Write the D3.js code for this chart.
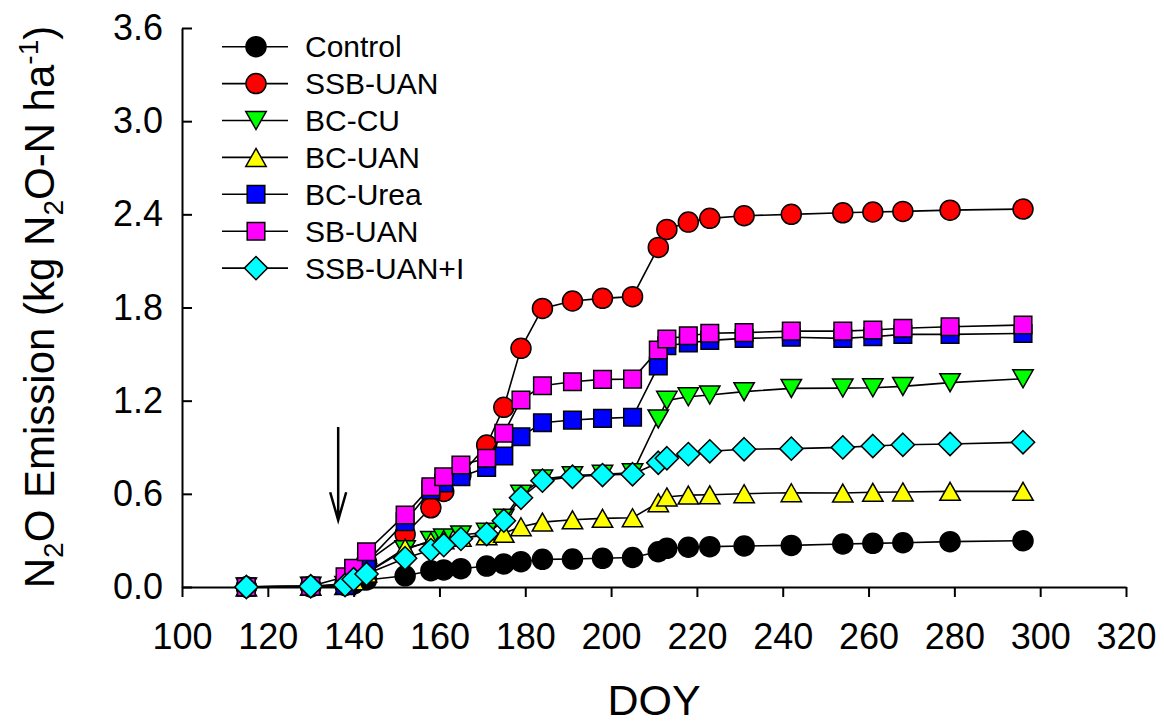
<!DOCTYPE html>
<html>
<head>
<meta charset="utf-8">
<script src="https://cdn.jsdelivr.net/npm/d3@7"></script>
<style>
  body { margin: 0; background: #fff; }
  text { font-family: "Liberation Sans", Arial, sans-serif; fill: #000; }
</style>
</head>
<body>
<svg id="chart" width="1164" height="726"></svg>
<script>
// sampling days (DOY) shared by all treatments
const doy = [115, 130, 138, 140, 143, 152, 158, 161, 165, 171, 175, 179, 184, 191, 198, 205,
  211, 213, 218, 223, 231, 242, 254, 261, 268, 279, 296];

// cumulative N2O emission, kg N2O-N ha-1
const control = [0, 0, 0.01, 0.02, 0.045, 0.072, 0.105, 0.11, 0.118, 0.135, 0.148, 0.163, 0.178, 0.18, 0.185, 0.19,
  0.227, 0.249, 0.256, 0.26, 0.264, 0.268, 0.277, 0.281, 0.285, 0.292, 0.298];
const ssbUan = [0, 0.005, 0.02, 0.08, 0.16, 0.34, 0.51, 0.615, 0.72, 0.914, 1.157, 1.537, 1.794, 1.842, 1.859, 1.87,
  2.187, 2.303, 2.35, 2.374, 2.391, 2.40, 2.41, 2.415, 2.419, 2.427, 2.434];
const bcCu = [0, 0.005, 0.01, 0.04, 0.09, 0.24, 0.3, 0.315, 0.335, 0.352, 0.442, 0.597, 0.695, 0.717, 0.726, 0.735,
  1.082, 1.202, 1.225, 1.236, 1.258, 1.279, 1.281, 1.283, 1.292, 1.316, 1.341];
const bcUan = [0, 0.005, 0.01, 0.04, 0.09, 0.25, 0.29, 0.305, 0.32, 0.33, 0.346, 0.388, 0.418, 0.433, 0.442, 0.446,
  0.543, 0.58, 0.592, 0.594, 0.601, 0.607, 0.605, 0.61, 0.612, 0.616, 0.616];
const bcUrea = [0, 0.005, 0.01, 0.09, 0.16, 0.42, 0.625, 0.67, 0.71, 0.77, 0.844, 0.968, 1.058, 1.075, 1.086, 1.093,
  1.423, 1.554, 1.571, 1.588, 1.601, 1.608, 1.601, 1.612, 1.627, 1.627, 1.633];
const sbUan = [0, 0.005, 0.066, 0.12, 0.227, 0.464, 0.646, 0.71, 0.786, 0.829, 0.99, 1.204, 1.296, 1.322, 1.337, 1.339,
  1.526, 1.597, 1.618, 1.634, 1.638, 1.648, 1.648, 1.655, 1.666, 1.676, 1.687];
const ssbUanI = [0, 0.005, 0.013, 0.05, 0.084, 0.185, 0.238, 0.27, 0.31, 0.341, 0.427, 0.575, 0.685, 0.71, 0.721, 0.726,
  0.80, 0.829, 0.856, 0.874, 0.887, 0.891, 0.899, 0.908, 0.916, 0.921, 0.932];

const seriesNames = ["Control", "SSB-UAN", "BC-CU", "BC-UAN", "BC-Urea", "SB-UAN", "SSB-UAN+I"];
const seriesValues = [control, ssbUan, bcCu, bcUan, bcUrea, sbUan, ssbUanI];
const seriesShapes = ["circle", "circle", "triDown", "triUp", "square", "square", "diamond"];
const seriesColors = ["#000000", "#ff0000", "#00ff00", "#ffff00", "#0000ff", "#ff00ff", "#00ffff"];

const xTicks = [100, 120, 140, 160, 180, 200, 220, 240, 260, 280, 300, 320];
const yTicks = [0, 0.6, 1.2, 1.8, 2.4, 3.0, 3.6];

// fertilizer application arrow (DOY, from/to emission values)
const arrowDoy = 136.4;
const arrowFrom = 1.03, arrowTo = 0.43;

var svg = d3.select("#chart");
var x = d3.scaleLinear([100, 320], [182, 1126]);
var y = d3.scaleLinear([0, 3.6], [587, 28]);

// marker path centered at 0,0
function markerPath(shape) {
  var r = 10, s = 8.8, d = 11.6, w = 10.2, h = 9;
  if (shape == "circle") return `M${-r},0A${r},${r} 0 1,0 ${r},0A${r},${r} 0 1,0 ${-r},0Z`;
  if (shape == "square") return `M${-s},${-s}H${s}V${s}H${-s}Z`;
  if (shape == "diamond") return `M0,${-d}L${d},0L0,${d}L${-d},0Z`;
  if (shape == "triUp") return `M0,${-h}L${w},${h}L${-w},${h}Z`;
  return `M${-w},${-h}L${w},${-h}L0,${h}Z`;
}

// axes
var xAxis = svg.append("g")
  .attr("transform", "translate(0,587)")
  .call(d3.axisBottom(x).tickValues(xTicks).tickSize(10).tickSizeOuter(0).tickPadding(26).tickFormat(d3.format("d")));
var yAxis = svg.append("g")
  .attr("transform", "translate(182,0)")
  .call(d3.axisLeft(y).tickValues(yTicks).tickSizeInner(-10).tickSizeOuter(0).tickPadding(19).tickFormat(d3.format(".1f")));

[xAxis, yAxis].forEach(function (g) {
  g.selectAll("path, line").attr("stroke", "#000").attr("stroke-width", 2);
  g.selectAll("text").style("font-size", "36px").attr("fill", "#000");
});

// series: line then markers
var line = d3.line()
  .x(function (d) { return x(d[0]); })
  .y(function (d) { return y(d[1]); });

seriesValues.forEach(function (vals, i) {
  var pts = doy.map(function (t, j) { return [t, vals[j]]; });
  var g = svg.append("g");
  g.append("path")
    .attr("d", line(pts))
    .attr("fill", "none")
    .attr("stroke", "#000")
    .attr("stroke-width", 1.6);
  g.selectAll(".pt").data(pts).enter().append("path")
    .attr("class", "pt")
    .attr("transform", function (d) { return `translate(${x(d[0])},${y(d[1])})`; })
    .attr("d", markerPath(seriesShapes[i]))
    .attr("fill", seriesColors[i])
    .attr("stroke", "#000")
    .attr("stroke-width", 1.5);
});

// arrow
var ax = x(arrowDoy);
svg.append("path")
  .attr("d", `M${ax},${y(arrowFrom)}V${y(arrowTo)}M${ax - 8},${y(arrowTo) - 28}L${ax},${y(arrowTo)}L${ax + 8},${y(arrowTo) - 28}`)
  .attr("fill", "none")
  .attr("stroke", "#000")
  .attr("stroke-width", 2.5);

// legend
var legend = svg.append("g");
seriesNames.forEach(function (name, i) {
  var cy = 46.7 + i * 36.9;
  var row = legend.append("g").attr("transform", `translate(0,${cy})`);
  row.append("line")
    .attr("x1", 222).attr("x2", 288)
    .attr("stroke", "#000").attr("stroke-width", 1.6);
  row.append("path")
    .attr("transform", "translate(256,0)")
    .attr("d", markerPath(seriesShapes[i]))
    .attr("fill", seriesColors[i])
    .attr("stroke", "#000")
    .attr("stroke-width", 1.5);
  row.append("text")
    .attr("x", 305)
    .attr("y", 10.7)
    .style("font-size", "30px")
    .text(name);
});

// axis titles
svg.append("text")
  .attr("x", 654)
  .attr("y", 715)
  .attr("text-anchor", "middle")
  .style("font-size", "43px")
  .text("DOY");

var yt = svg.append("text")
  .attr("transform", "translate(54,307) rotate(-90)")
  .attr("text-anchor", "middle")
  .style("font-size", "42px");
yt.append("tspan").text("N");
yt.append("tspan").attr("dy", 9).style("font-size", "28px").text("2");
yt.append("tspan").attr("dy", -9).text("O Emission (kg N");
yt.append("tspan").attr("dy", 9).style("font-size", "28px").text("2");
yt.append("tspan").attr("dy", -9).text("O-N ha");
yt.append("tspan").attr("dy", -16).style("font-size", "28px").text("-1");
yt.append("tspan").attr("dy", 16).text(")");
</script>
</body>
</html>
